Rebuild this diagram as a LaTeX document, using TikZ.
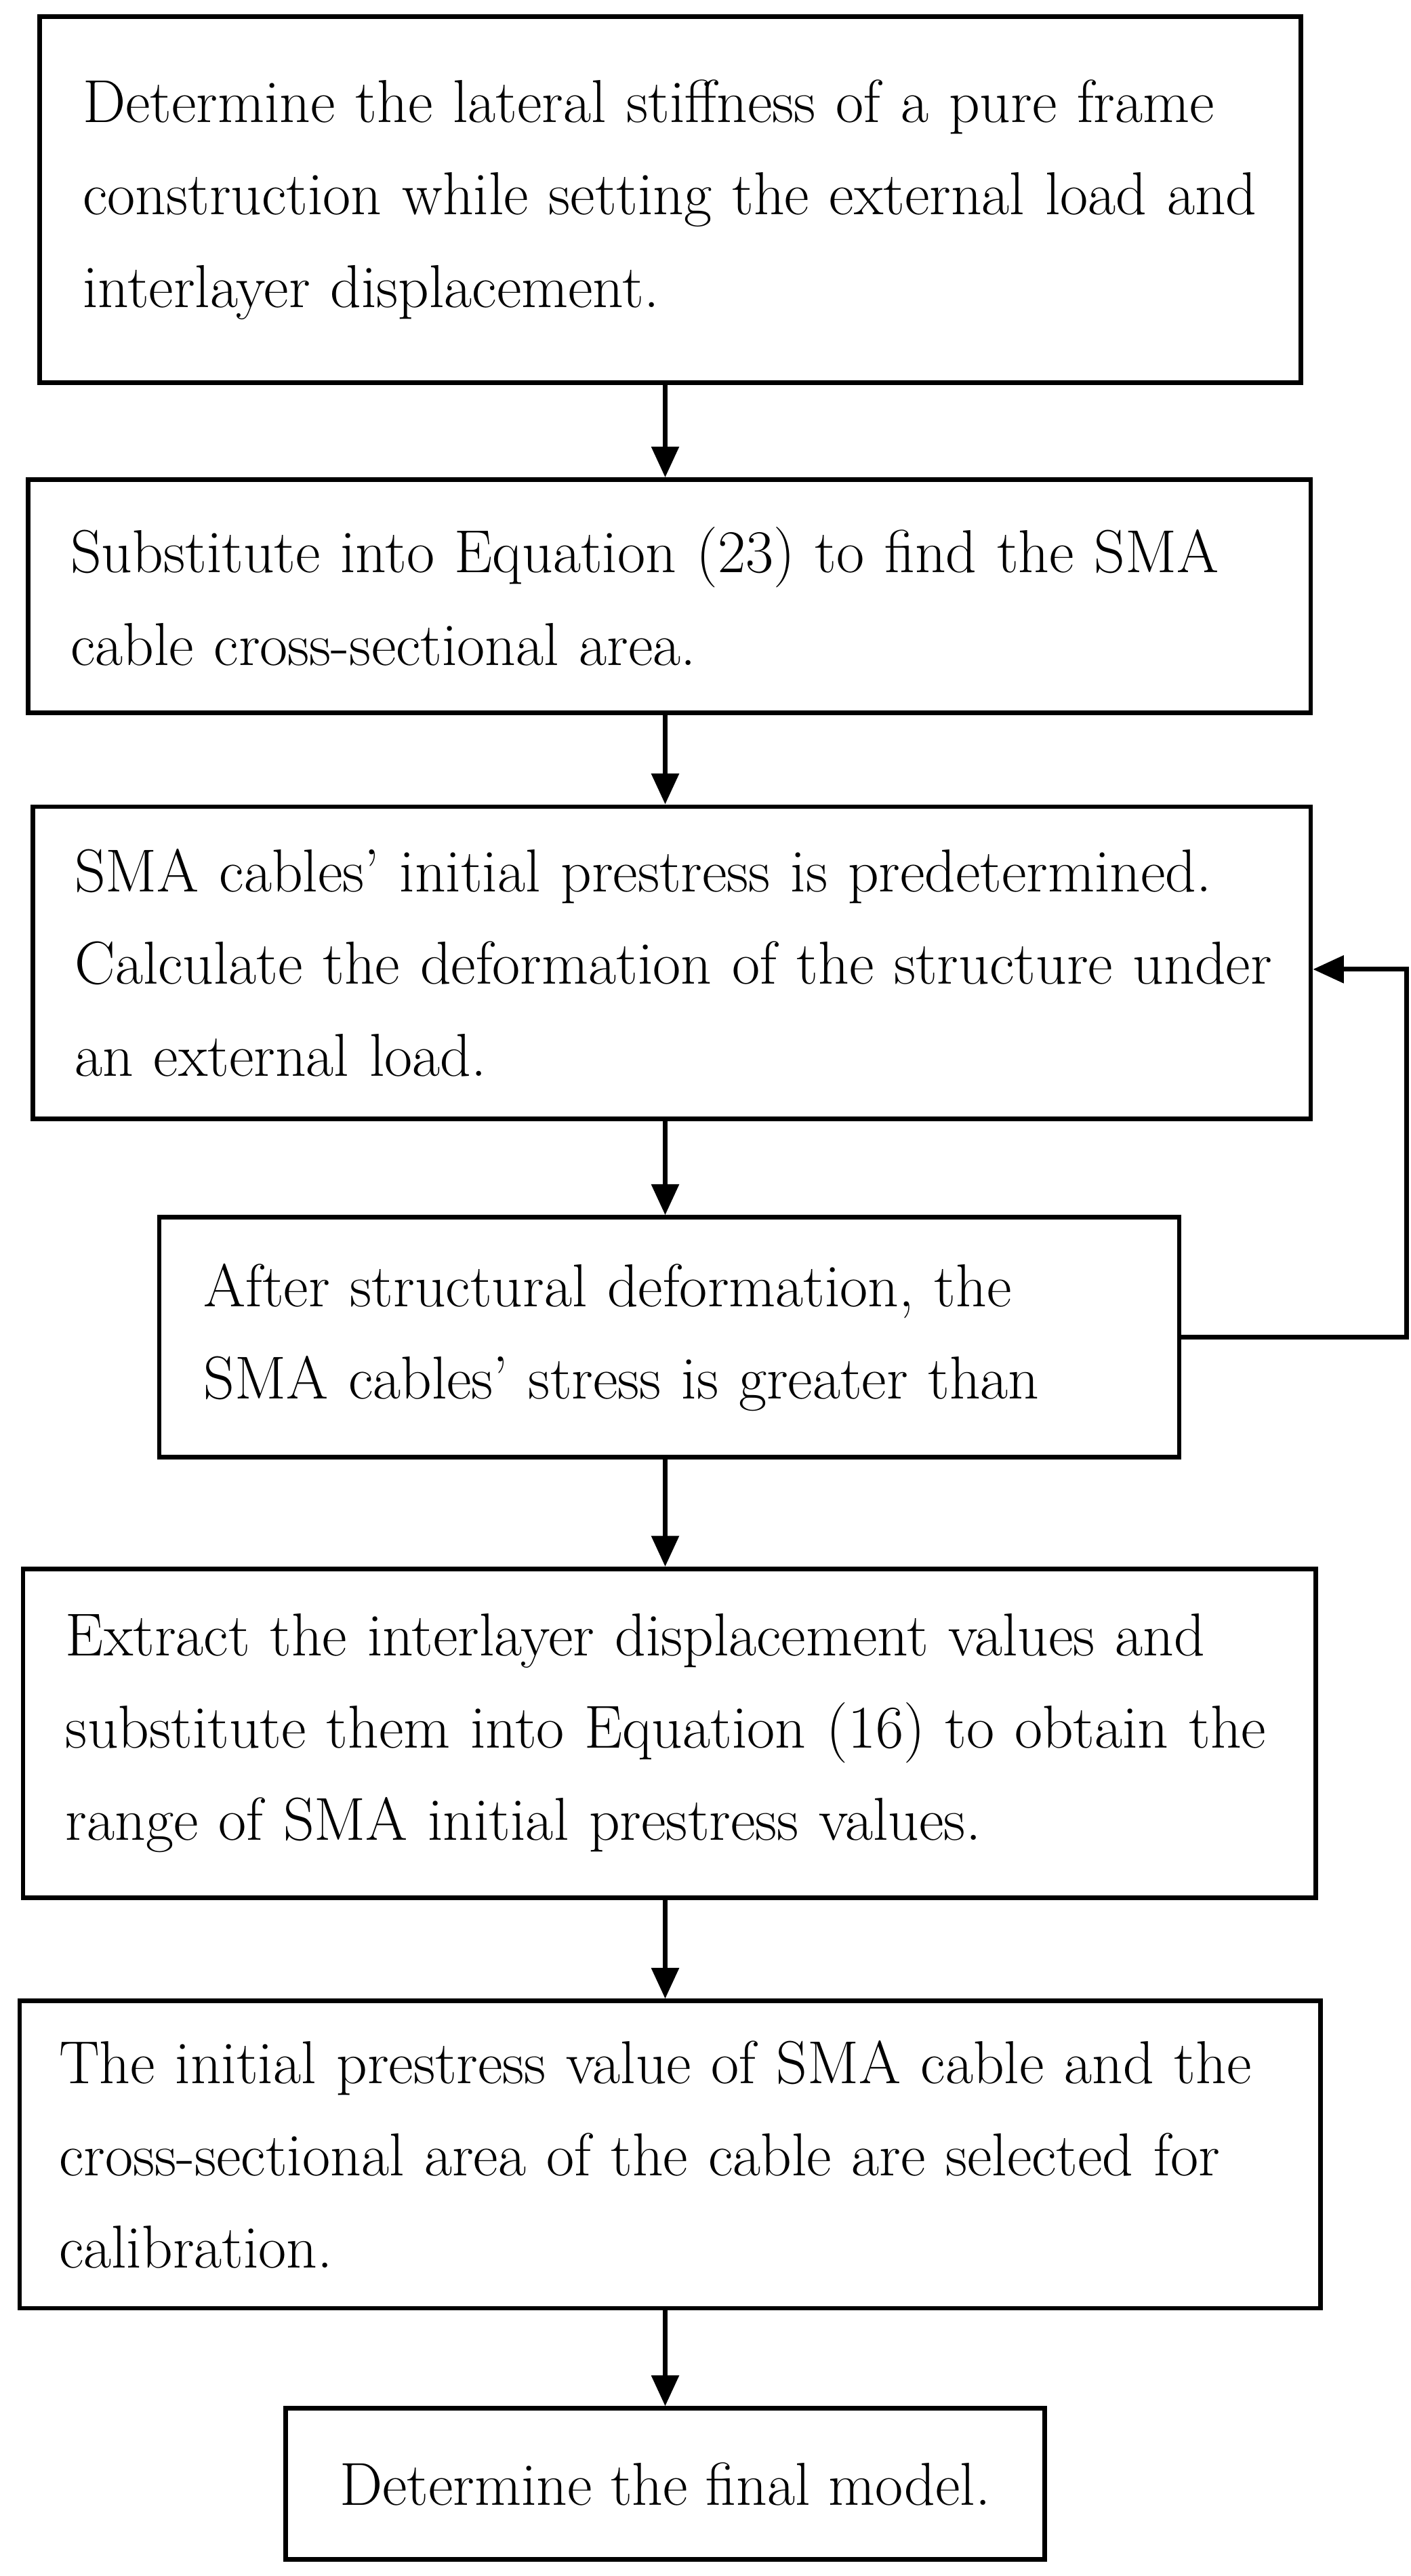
\documentclass[tikz,border=0pt]{standalone}
\usepackage{tikz}
\usetikzlibrary{arrows.meta}
\newcommand{\jline}[1]{\makebox[\hsize][s]{#1}}
\begin{document}
\begin{tikzpicture}[x=0.03cm,y=-0.03cm,
    box/.style={draw, line width=2.4pt, inner xsep=0pt, inner ysep=0pt,
      font=\fontsize{31.5}{48}\selectfont, align=left},
    arr/.style={-{Triangle[length=16pt,width=14pt]}, line width=2.4pt}]
  \useasboundingbox (0,0) rectangle (859,1568);
  \node[box, minimum width=768*0.03cm, minimum height=223*0.03cm, text width=715*0.03cm] (b1) at (408,121.5)
    {\jline{Determine the lateral stiffness of a pure frame}\\
     \jline{construction while setting the external load and}\\
     interlayer displacement.};
  \node[box, minimum width=781*0.03cm, minimum height=142*0.03cm, text width=729*0.03cm] (b2) at (407.5,363)
    {\jline{Substitute into Equation (23) to find the SMA}\\
     cable cross-sectional area.};
  \node[box, minimum width=778*0.03cm, minimum height=190*0.03cm, text width=727*0.03cm] (b3) at (409,586)
    {\jline{SMA cables' initial prestress is predetermined.}\\
     \jline{Calculate the deformation of the structure under}\\
     an external load.};
  \node[box, minimum width=621*0.03cm, minimum height=146*0.03cm, text width=567*0.03cm] (b4) at (407.5,814)
    {\jline{After structural deformation, the}\\
     \jline{SMA cables' stress is greater than}};
  \node[box, minimum width=787*0.03cm, minimum height=200*0.03cm, text width=735*0.03cm] (b5) at (407.5,1055)
    {\jline{Extract the interlayer displacement values and}\\
     \jline{substitute them into Equation (16) to obtain the}\\
     range of SMA initial prestress values.};
  \node[box, minimum width=792*0.03cm, minimum height=187*0.03cm, text width=744*0.03cm] (b6) at (408,1311.5)
    {\jline{The initial prestress value of SMA cable and the}\\
     \jline{cross-sectional area of the cable are selected for}\\
     calibration.};
  \node[box, minimum width=462*0.03cm, minimum height=92*0.03cm, align=center] (b7) at (405,1512)
    {Determine the final model.};

  \draw[arr] (b1.south -| b7.north) -- (b2.north -| b7.north);
  \draw[arr] (b2.south -| b7.north) -- (b3.north -| b7.north);
  \draw[arr] (b3.south -| b7.north) -- (b4.north -| b7.north);
  \draw[arr] (b4.south -| b7.north) -- (b5.north -| b7.north);
  \draw[arr] (b5.south -| b7.north) -- (b6.north -| b7.north);
  \draw[arr] (b6.south -| b7.north) -- (b7.north);
  % feedback loop
  \draw[arr] (b4.east) -- ++(137,0) |- ([yshift=-4*0.03cm]b3.east);
\end{tikzpicture}
\end{document}
